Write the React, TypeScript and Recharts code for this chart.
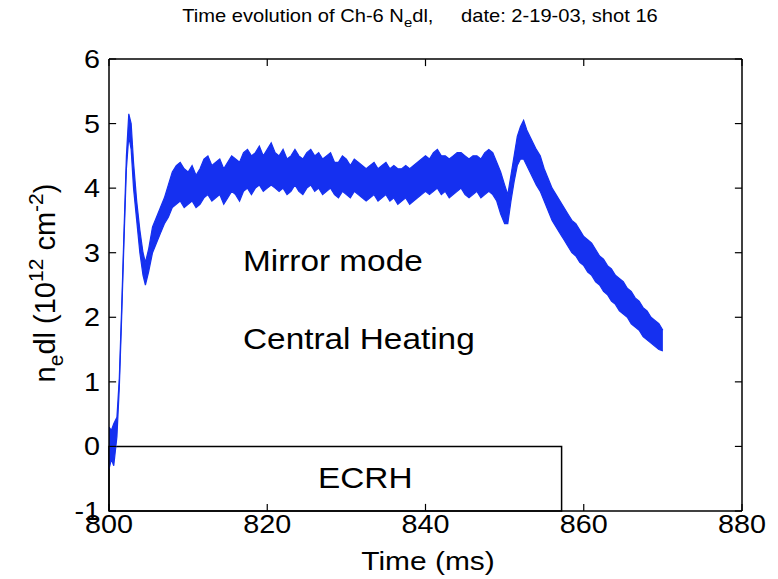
import { ComposedChart, Area, XAxis, YAxis, ReferenceArea, ReferenceLine, Customized } from 'recharts'

// time axis (ms) and the upper / lower edge of the noisy Ne*dl trace (1e12 cm^-2)
const TIME_MS = [
  800.0, 800.3, 800.6, 801.0, 801.3, 801.6, 801.9, 802.2, 802.5, 802.8,
  803.1, 803.5, 803.9, 804.3, 804.6, 805.0, 805.5, 806.0, 806.5, 807.0,
  807.5, 808.0, 808.5, 809.0, 809.5, 810.0, 810.5, 811.0, 811.5, 812.0,
  812.5, 813.0, 813.5, 814.0, 814.5, 815.0, 815.5, 816.0, 816.5, 817.0,
  817.5, 818.0, 818.5, 819.0, 819.5, 820.0, 820.5, 821.0, 821.5, 822.0,
  822.5, 823.0, 823.5, 824.0, 824.5, 825.0, 825.5, 826.0, 826.5, 827.0,
  827.5, 828.0, 828.5, 829.0, 829.5, 830.0, 830.5, 831.0, 831.5, 832.0,
  832.5, 833.0, 833.5, 834.0, 834.5, 835.0, 835.5, 836.0, 836.5, 837.0,
  837.5, 838.0, 838.5, 839.0, 839.5, 840.0, 840.5, 841.0, 841.5, 842.0,
  842.5, 843.0, 843.5, 844.0, 844.5, 845.0, 845.5, 846.0, 846.5, 847.0,
  847.5, 848.0, 848.5, 849.0, 849.5, 850.0, 850.4, 850.8, 851.2, 851.6,
  852.0, 852.4, 852.8, 853.2, 853.6, 854.0, 854.5, 855.0, 855.5, 856.0,
  856.5, 857.0, 857.5, 858.0, 858.5, 859.0, 859.5, 860.0, 860.5, 861.0,
  861.5, 862.0, 862.5, 863.0, 863.5, 864.0, 864.5, 865.0, 865.5, 866.0,
  866.5, 867.0, 867.5, 868.0, 868.5, 869.0, 869.5, 870.0,
]

const NEDL_LOW = [
  -0.35, -0.2, -0.3, 0.15, 0.9, 2.0, 3.2, 4.3, 4.8, 4.6,
  4.0, 3.5, 3.0, 2.65, 2.5, 2.7, 3.0, 3.15, 3.3, 3.45,
  3.55, 3.7, 3.75, 3.8, 3.7, 3.75, 3.8, 3.7, 3.75, 3.85,
  3.9, 3.8, 3.85, 3.9, 3.75, 3.85, 3.95, 3.9, 3.8, 3.95,
  4.0, 3.9, 4.0, 4.05, 3.95, 4.0, 4.05, 4.0, 3.95, 4.0,
  3.9, 3.95, 4.05, 3.95, 3.9, 4.0, 4.05, 3.95, 4.0, 3.9,
  3.95, 4.0, 3.9, 3.85, 3.95, 3.9, 3.85, 3.95, 3.9, 3.85,
  3.8, 3.85, 3.9, 3.8, 3.85, 3.9, 3.8, 3.85, 3.75, 3.8,
  3.85, 3.75, 3.8, 3.85, 3.9, 3.95, 3.9, 3.95, 4.0, 3.9,
  3.95, 3.85, 3.9, 3.95, 4.0, 3.9, 3.85, 3.9, 3.95, 3.85,
  3.9, 3.95, 3.9, 3.8, 3.6, 3.45, 3.45, 3.8, 4.1, 4.35,
  4.45, 4.45, 4.35, 4.25, 4.15, 4.05, 3.95, 3.8, 3.65, 3.5,
  3.4, 3.3, 3.2, 3.1, 3.0, 2.95, 2.85, 2.8, 2.7, 2.65,
  2.55, 2.5, 2.4, 2.35, 2.25, 2.2, 2.1, 2.05, 2.0, 1.9,
  1.85, 1.8, 1.7, 1.65, 1.6, 1.55, 1.5, 1.48,
]

const NEDL_HIGH = [
  0.3, 0.25, 0.35, 0.45, 1.05, 2.15, 3.35, 4.5, 5.15, 5.0,
  4.4, 3.8, 3.35, 3.0, 2.85, 3.05, 3.4, 3.55, 3.7, 3.85,
  4.05, 4.25, 4.35, 4.4, 4.3, 4.25, 4.35, 4.2, 4.3, 4.45,
  4.5, 4.35, 4.4, 4.45, 4.3, 4.4, 4.5, 4.45, 4.4, 4.55,
  4.6, 4.5, 4.55, 4.65, 4.5, 4.6, 4.7, 4.55, 4.5, 4.6,
  4.45, 4.5, 4.6, 4.5, 4.45, 4.55, 4.6, 4.5, 4.55, 4.45,
  4.5, 4.55, 4.4, 4.4, 4.5, 4.45, 4.35, 4.45, 4.4, 4.35,
  4.3, 4.35, 4.4, 4.3, 4.35, 4.4, 4.3, 4.35, 4.3, 4.3,
  4.35, 4.3, 4.35, 4.4, 4.45, 4.5, 4.45, 4.55, 4.6, 4.5,
  4.5, 4.45, 4.5, 4.55, 4.55, 4.5, 4.45, 4.5, 4.5, 4.45,
  4.55, 4.6, 4.55, 4.4, 4.25, 4.05, 3.9, 4.2, 4.5, 4.8,
  4.95, 5.05, 4.9, 4.8, 4.7, 4.6, 4.5, 4.3, 4.15, 4.0,
  3.9, 3.8, 3.7, 3.6, 3.5, 3.45, 3.35, 3.25, 3.2, 3.15,
  3.05, 2.95, 2.9, 2.8, 2.75, 2.65, 2.6, 2.55, 2.45, 2.4,
  2.3, 2.25, 2.15, 2.1, 2.0, 1.95, 1.9, 1.8,
]

const X_TICKS = [800, 820, 840, 860, 880]
const Y_TICKS = [-1, 0, 1, 2, 3, 4, 5, 6]
const X_DOMAIN = [800, 880]
const Y_DOMAIN = [-1, 6]

// ECRH pulse window drawn as a box under the trace
const ECRH_START = 800
const ECRH_END = 857.2
const ECRH_BOX = [-1, 0]

const data = TIME_MS.map((t, i) => ({ t, band: [NEDL_LOW[i], NEDL_HIGH[i]] }))

const FONT = '"Liberation Sans", Arial, Helvetica, sans-serif'
const BLUE = '#1530f0'
const SX = 1.15
// inward tick length, in axis units (~7px each way)
const XTICK_LEN = 0.11
const YTICK_LEN = 0.9

function SText({ x, y, size, anchor = 'start', children }: any) {
  return (
    <g transform={`translate(${x},${y}) scale(${SX},1)`}>
      <text x={0} y={0} fontSize={size} fontFamily={FONT} textAnchor={anchor} fill="#000">
        {children}
      </text>
    </g>
  )
}

function XTick({ x, y, payload }: any) {
  return <SText x={x} y={y + 17} size={25} anchor="middle">{payload.value}</SText>
}

function YTick({ x, y, payload }: any) {
  return <SText x={x} y={y + 9} size={25} anchor="end">{payload.value}</SText>
}

function Annotations() {
  return (
    <g>
      <SText x={420} y={22} size={17.5} anchor="middle">
        Time evolution of Ch-6 N
        <tspan dy={5} fontSize={13}>e</tspan>
        <tspan dy={-5} fontSize={17.5}>dl,</tspan>
        <tspan dx={24}>date: 2-19-03, shot 16</tspan>
      </SText>
      <text
        transform="translate(55,283) rotate(-90)"
        textAnchor="middle"
        fontSize={29}
        fontFamily={FONT}
        fill="#000"
      >
        n<tspan dy={8} fontSize={21}>e</tspan>
        <tspan dy={-8} fontSize={29}>dl (10</tspan>
        <tspan dy={-12} fontSize={21}>12</tspan>
        <tspan dy={12} fontSize={29}> cm</tspan>
        <tspan dy={-12} fontSize={21}>-2</tspan>
        <tspan dy={12} fontSize={29}>)</tspan>
      </text>
      <SText x={428} y={570} size={26} anchor="middle">Time (ms)</SText>
      <SText x={243} y={271} size={29}>Mirror mode</SText>
      <SText x={243} y={349} size={29}>Central Heating</SText>
      <SText x={318} y={488} size={29}>ECRH</SText>
    </g>
  )
}

const frame = { stroke: '#000', strokeWidth: 1.5 }

export default function App() {
  const [x0, x1] = X_DOMAIN
  const [y0, y1] = Y_DOMAIN
  return (
    <div style={{ position: 'fixed', left: 0, top: 0, width: 778, height: 579, background: '#fff' }}>
      <ComposedChart width={778} height={579} data={data} margin={{ top: 59, right: 36, bottom: 0, left: 0 }}>
        <XAxis
          dataKey="t"
          type="number"
          domain={X_DOMAIN}
          ticks={X_TICKS}
          interval={0}
          height={68}
          tickSize={0}
          tickMargin={5}
          tick={<XTick />}
          axisLine={frame}
          tickLine={false}
          allowDataOverflow
        />
        <YAxis
          type="number"
          domain={Y_DOMAIN}
          ticks={Y_TICKS}
          interval={0}
          width={109}
          tickSize={0}
          tickMargin={9}
          tick={<YTick />}
          axisLine={frame}
          tickLine={false}
          allowDataOverflow
        />
        {/* box frame: top and right edges */}
        <ReferenceLine y={y1} {...frame} ifOverflow="visible" />
        <ReferenceLine x={x1} {...frame} ifOverflow="visible" />
        {/* inward ticks on all four sides */}
        {X_TICKS.map((t) => (
          <ReferenceLine key={`xb${t}`} segment={[{ x: t, y: y0 }, { x: t, y: y0 + XTICK_LEN }]} stroke="#000" strokeWidth={1.2} ifOverflow="visible" />
        ))}
        {X_TICKS.map((t) => (
          <ReferenceLine key={`xt${t}`} segment={[{ x: t, y: y1 }, { x: t, y: y1 - XTICK_LEN }]} stroke="#000" strokeWidth={1.2} ifOverflow="visible" />
        ))}
        {Y_TICKS.map((v) => (
          <ReferenceLine key={`yl${v}`} segment={[{ x: x0, y: v }, { x: x0 + YTICK_LEN, y: v }]} stroke="#000" strokeWidth={1.2} ifOverflow="visible" />
        ))}
        {Y_TICKS.map((v) => (
          <ReferenceLine key={`yr${v}`} segment={[{ x: x1, y: v }, { x: x1 - YTICK_LEN, y: v }]} stroke="#000" strokeWidth={1.2} ifOverflow="visible" />
        ))}
        <ReferenceArea
          x1={ECRH_START}
          x2={ECRH_END}
          y1={ECRH_BOX[0]}
          y2={ECRH_BOX[1]}
          fill="none"
          stroke="#000"
          strokeWidth={1.5}
        />
        <Area
          dataKey="band"
          type="linear"
          fill={BLUE}
          fillOpacity={1}
          stroke={BLUE}
          strokeWidth={1.2}
          dot={false}
          activeDot={false}
          isAnimationActive={false}
        />
        <Customized component={Annotations} />
      </ComposedChart>
    </div>
  )
}
